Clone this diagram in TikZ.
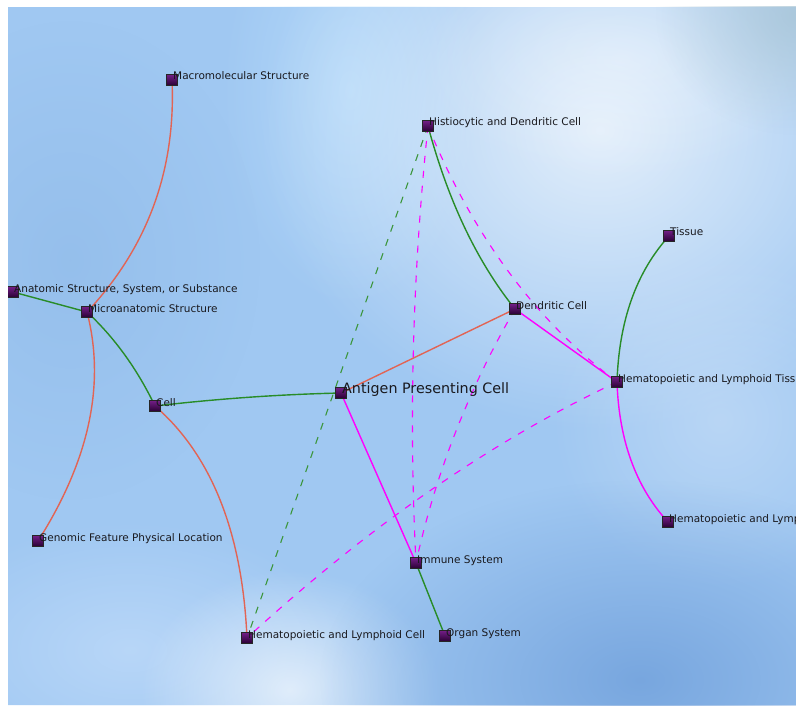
\documentclass[tikz,border=0pt]{standalone}
\usepackage{fontspec}
\setmainfont{DejaVu Sans}
\usetikzlibrary{fadings,calc}
\tikzfading[name=glow, inner color=transparent!0, outer color=transparent!100]

\definecolor{bgbase}{RGB}{160,200,242}
\definecolor{bgleft}{RGB}{136,180,228}
\definecolor{bgcyan}{RGB}{196,230,255}
\definecolor{bgcorner}{RGB}{168,196,212}
\definecolor{bgright}{RGB}{210,228,248}
\definecolor{bglowleft}{RGB}{200,224,252}
\definecolor{bgdeep}{RGB}{110,158,218}
\definecolor{edgered}{RGB}{226,100,84}
\definecolor{edgegreen}{RGB}{40,140,40}
\definecolor{dashgreen}{RGB}{60,150,60}
\definecolor{edgemag}{RGB}{255,0,255}
\definecolor{vtxtop}{RGB}{115,30,135}
\definecolor{vtxbot}{RGB}{40,0,50}
\definecolor{lbltext}{RGB}{25,25,30}

\tikzset{
  vtx/.style={rectangle, minimum size=11pt, inner sep=0pt, draw=black!85, line width=0.6pt,
    top color=vtxtop, bottom color=vtxbot},
  lbl/.style={anchor=base west, inner sep=0pt, text=lbltext, font=\fontsize{10.5}{12}\selectfont},
  biglbl/.style={lbl, font=\fontsize{14.3}{16}\selectfont},
  redE/.style={draw=edgered, line width=1.4pt},
  greenE/.style={draw=edgegreen, line width=1.4pt},
  magE/.style={draw=edgemag, line width=1.4pt},
  greenD/.style={draw=dashgreen, line width=1.1pt, dash pattern=on 7pt off 8pt},
  magD/.style={draw=edgemag, line width=1.1pt, dash pattern=on 7pt off 8pt},
  haze/.style={path fading=glow, fill opacity=#1},
}

% quadratic arc from #2 to #3 bent towards the point #4, drawn with style #1
\newcommand{\qarc}[4]{%
  \draw[#1] (#2) .. controls ($(#2)!2/3!(#4)$) and ($(#3)!2/3!(#4)$) .. (#3);}

\begin{document}
\begin{tikzpicture}[x=1pt,y=-1pt]
\useasboundingbox (0,0) rectangle (796,706);
\fill[white] (0,0) rectangle (796,706);

\begin{scope}
\clip (8,7) rectangle (796,705);

% soft background
\fill[bgbase] (8,7) rectangle (796,705);
\fill[bgleft, haze=0.45] (70,260) ellipse [x radius=190, y radius=240];
\fill[bgcyan, haze=0.55] (350,90) ellipse [x radius=130, y radius=220];
\fill[white, haze=0.7] (600,130) ellipse [x radius=340, y radius=300];
\fill[white, haze=0.35] (620,60) ellipse [x radius=200, y radius=120];
\fill[bgcorner, haze=0.75] (796,15) ellipse [x radius=140, y radius=120];
\fill[bgright, haze=0.5] (720,420) ellipse [x radius=170, y radius=170];
\fill[bglowleft, haze=0.6] (130,650) ellipse [x radius=220, y radius=130];
\fill[white, haze=0.65] (290,690) ellipse [x radius=150, y radius=120];
\fill[bgdeep, haze=0.8] (640,680) ellipse [x radius=320, y radius=200];

% vertex positions
\coordinate (mac) at (172,80);
\coordinate (ana) at (13,292);
\coordinate (mic) at (87,312);
\coordinate (cel) at (155,406);
\coordinate (gen) at (38,541);
\coordinate (hlc) at (247,638);
\coordinate (apc) at (341,393);
\coordinate (his) at (428,126);
\coordinate (den) at (515,309);
\coordinate (tis) at (669,236);
\coordinate (hlt) at (617,382);
\coordinate (hls) at (668,522);
\coordinate (imm) at (416,563);
\coordinate (org) at (445,636);

% connectors
\qarc{redE}{mac}{mic}{178,215}
\draw[greenE] (ana) -- (mic);
\qarc{greenE}{mic}{cel}{128,350}
\qarc{redE}{mic}{gen}{115,420}
\qarc{redE}{cel}{hlc}{240,480}
\qarc{greenE}{cel}{apc}{250,395}
\draw[redE] (apc) -- (den);
\draw[magE] (apc) -- (imm);
\qarc{greenE}{his}{den}{458,238}
\draw[greenD] (his) -- (hlc);
\qarc{magD}{his}{imm}{405,345}
\qarc{magD}{his}{hlt}{495,290}
\draw[magE] (den) -- (hlt);
\qarc{magD}{den}{imm}{445,430}
\qarc{magD}{hlt}{hlc}{430,470}
\qarc{greenE}{tis}{hlt}{620,290}
\qarc{magE}{hlt}{hls}{620,470}
\draw[greenE] (imm) -- (org);

% vertex markers, above the connectors
\foreach \v in {mac,ana,mic,cel,gen,hlc,apc,his,den,tis,hlt,hls,imm,org}
  \node[vtx] (\v M) at (\v) {};

% labels
\node[lbl] (macL) at ([xshift=1pt]mac) {Macromolecular Structure};
\node[lbl] (anaL) at ([xshift=1pt]ana) {Anatomic Structure, System, or Substance};
\node[lbl] (micL) at ([xshift=1pt]mic) {Microanatomic Structure};
\node[lbl] (celL) at ([xshift=1pt]cel) {Cell};
\node[lbl] (genL) at ([xshift=1pt]gen) {Genomic Feature Physical Location};
\node[lbl] (hlcL) at ([xshift=1pt]hlc) {Hematopoietic and Lymphoid Cell};
\node[biglbl] (apcL) at ([xshift=1pt]apc) {Antigen Presenting Cell};
\node[lbl] (hisL) at ([xshift=1pt]his) {Histiocytic and Dendritic Cell};
\node[lbl] (denL) at ([xshift=1pt]den) {Dendritic Cell};
\node[lbl] (tisL) at ([xshift=1pt]tis) {Tissue};
\node[lbl] (hltL) at ([xshift=1pt]hlt) {Hematopoietic and Lymphoid Tissue};
\node[lbl] (hlsL) at ([xshift=1pt]hls) {Hematopoietic and Lymphoid System};
\node[lbl] (immL) at ([xshift=1pt]imm) {Immune System};
\node[lbl] (orgL) at ([xshift=1pt]org) {Organ System};
\end{scope}
\end{tikzpicture}
\end{document}
